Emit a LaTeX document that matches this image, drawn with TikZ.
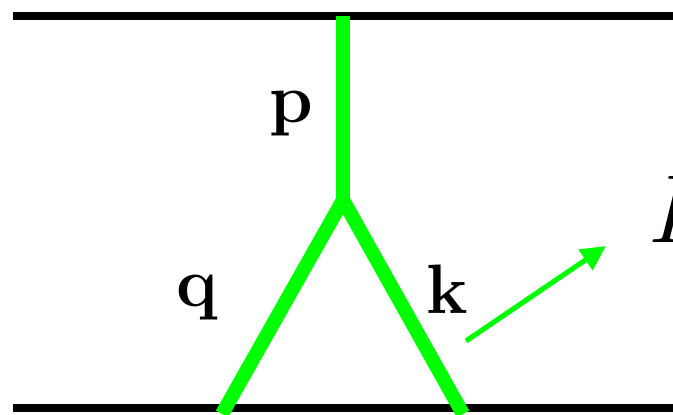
\documentclass[tikz,border=0pt]{standalone}
\usetikzlibrary{arrows.meta}
\definecolor{vertexGreen}{RGB}{0,255,0}
\newcommand{\bigsym}[2]{\scalebox{#1}{\Huge #2}}

\begin{document}
\begin{tikzpicture}[x=0.025cm,y=-0.025cm]
            \tikzset{wall/.style={line width=5pt, black},
                     prop/.style={line width=9.5pt, vertexGreen},
                     emit/.style={line width=3.6pt, vertexGreen, -{Triangle[length=0.62cm,width=0.6cm]}},
                     lbl/.style={inner sep=0pt, anchor=base}}

            \useasboundingbox (0,0) rectangle (673,415);

            % walls
            \coordinate (topL) at (13,16);
            \coordinate (topR) at (700,16);
            \coordinate (botL) at (13,408);
            \coordinate (botR) at (700,408);
            \draw[wall] (topL) -- (topR);
            \draw[wall] (botL) -- (botR);

            % vertex
            \coordinate (pTop) at (343,16);
            \coordinate (vtx) at (343,200);
            \coordinate (qEnd) at (222,414);
            \coordinate (kEnd) at (463,414);
            \draw[prop] (pTop) -- (vtx);
            \draw[prop, line width=10pt] (vtx) -- (qEnd);
            \draw[prop, line width=10pt] (vtx) -- (kEnd);

            % emitted
            \coordinate (arrS) at (466,341);
            \coordinate (arrE) at (606,246);
            \draw[emit] (arrS) -- (arrE);

            \node[lbl] (pLabel) at (291,122) {\bigsym{2}{$\mathbf{p}$}};
            \node[lbl] (qLabel) at (197,306) {\bigsym{2}{$\mathbf{q}$}};
            \node[lbl] (kLabel) at (447,313) {\bigsym{2}{$\mathbf{k}$}};
            \node[lbl, anchor=base west] (eLabel) at (648,242) {\bigsym{2.77}{$E$}};
        \end{tikzpicture}
\end{document}
